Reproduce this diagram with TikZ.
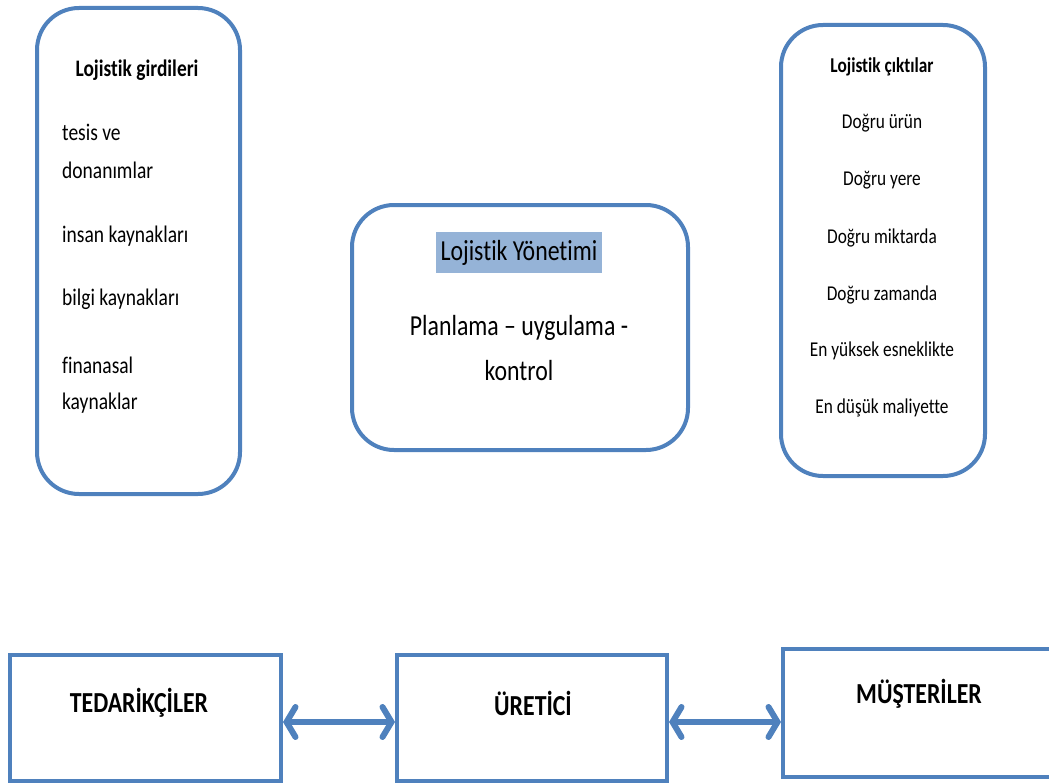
\documentclass[tikz,border=0pt]{standalone}
\usepackage{fontspec}
\setmainfont{Carlito}[Ligatures={NoCommon}]
\usetikzlibrary{arrows.meta}
\definecolor{obl}{HTML}{4F81BD}
\definecolor{hl}{HTML}{95B3D7}
\newcommand\vst[1]{\scalebox{1}[1.22]{#1}}
\tikzset{
  rbox/.style={draw=obl, line width=4pt, rounded corners=42pt},
  sbox/.style={draw=obl, line width=4pt},
  lefttxt/.style={anchor=west, font=\fontsize{19.5}{23}\selectfont, inner sep=0pt},
  righttxt/.style={font=\fontsize{17.3}{20}\selectfont, inner sep=0pt},
  bigtxt/.style={font=\fontsize{23.8}{28}\selectfont, inner sep=0pt},
  bottxt/.style={font=\fontsize{23.8}{28}\selectfont\bfseries, inner sep=0pt},
  dblarrow/.style={obl, line width=6pt, {Straight Barb[length=9pt,width=30pt,line cap=round]}-{Straight Barb[length=9pt,width=30pt,line cap=round]}, shorten <=2pt, shorten >=2pt}
}
\begin{document}
\begin{tikzpicture}[x=1pt,y=-1pt]
\useasboundingbox (0,0) rectangle (1049,784);
% input box
\draw[rbox] (37,8) rectangle (240,494);
\node[font=\fontsize{19.4}{23}\selectfont\bfseries, inner sep=0pt] (ginT) at (137,70) {\vst{Lojistik girdileri}};
\node[lefttxt] (g1) at (62,132) {\vst{tesis ve}};
\node[lefttxt] (g2) at (62,170) {\vst{donanımlar}};
\node[lefttxt] (g3) at (62,236) {\vst{insan kaynakları}};
\node[lefttxt] (g4) at (62,299) {\vst{bilgi kaynakları}};
\node[lefttxt] (g5) at (62,365) {\vst{finanasal}};
\node[lefttxt] (g6) at (62,403) {\vst{kaynaklar}};
% center box
\draw[rbox] (352,205) rectangle (688,450);
\fill[hl] (436,232) rectangle (602,273);
\node[bigtxt] (yt) at (519,253) {\vst{Lojistik Yönetimi}};
\node[bigtxt] (p1) at (519,328) {\vst{Planlama – uygulama -}};
\node[bigtxt] (p2) at (519,371) {\vst{kontrol}};
% output box
\draw[rbox] (781,25) rectangle (985,476);
\node[righttxt, font=\fontsize{17.3}{20}\selectfont\bfseries] (cT) at (882,67) {\vst{Lojistik çıktılar}};
\node[righttxt] (c1) at (882,123) {\vst{Doğru ürün}};
\node[righttxt] (c2) at (882,180) {\vst{Doğru yere}};
\node[righttxt] (c3) at (882,238) {\vst{Doğru miktarda}};
\node[righttxt] (c4) at (882,295) {\vst{Doğru zamanda}};
\node[righttxt] (c5) at (882,351) {\vst{En yüksek esneklikte}};
\node[righttxt] (c6) at (882,408) {\vst{En düşük maliyette}};
% bottom boxes
\draw[sbox] (10,655) rectangle (281,781);
\draw[sbox] (397,655) rectangle (667,781);
\draw[sbox] (783,649) rectangle (1060,777);
\coordinate (tR) at (281,722);
\coordinate (uL) at (397,722);
\coordinate (uR) at (667,722);
\coordinate (mL) at (783,722);
\node[bottxt] (ted) at (139,703) {\vst{TEDARİKÇİLER}};
\node[bottxt] (ure) at (533,703) {\vst{ÜRETİCİ}};
\node[bottxt] (mus) at (919,694) {\vst{MÜŞTERİLER}};
\draw[dblarrow] (tR) -- (uL);
\draw[dblarrow] (uR) -- (mL);
\end{tikzpicture}
\end{document}
